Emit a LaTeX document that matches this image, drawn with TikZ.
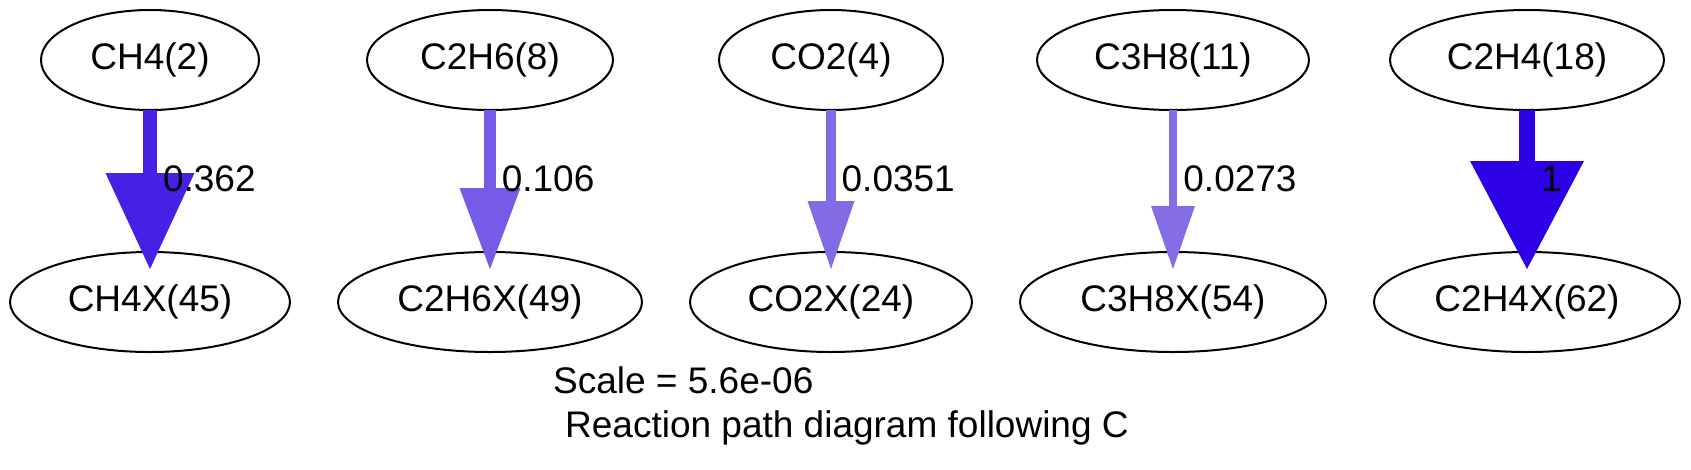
\documentclass[tikz,border=0pt]{standalone}
\usepackage{fontspec}
\setmainfont{Liberation Sans}
\usetikzlibrary{positioning,shapes,arrows.meta,matrix}
\definecolor{fluxch4}{RGB}{71,32,230}
\definecolor{fluxc2h6}{RGB}{118,91,230}
\definecolor{fluxco2}{RGB}{132,107,230}
\definecolor{fluxc3h8}{RGB}{133,109,230}
\definecolor{fluxc2h4}{RGB}{46,0,230}
\tikzset{
  species/.style={
    % The shape:
    ellipse,
    anchor=center,
    % The size:
    minimum height=100pt,
    inner sep=0pt,
    % The border:
    draw=black,
    line width=2pt},
  flow/.style n args={4}{
    draw=#1,
    line width=#2,
    shorten >=-17pt,
    -{Triangle[length=#3,width=#4,line width=0pt]}},
  flux label/.style={midway,anchor=west,xshift=6pt,yshift=2pt,inner sep=0pt,text=black}
}

\begin{document}
\begin{tikzpicture}[x=1pt,y=-1pt,font=\fontsize{37}{44}\selectfont]
  \useasboundingbox (0,0) rectangle (1691,469);

  \matrix (grid) [ampersand replacement=\&,column sep=46pt,row sep=140pt,
                  inner sep=0pt,outer sep=0pt,anchor=north west] at (9,9) {
    \node (ch4)   [species,minimum width=218pt] {CH4(2)};    \&
    \node (c2h6)  [species,minimum width=246pt] {C2H6(8)};   \&
    \node (co2)   [species,minimum width=224pt] {CO2(4)};    \&
    \node (c3h8)  [species,minimum width=272pt] {C3H8(11)};  \&
    \node (c2h4)  [species,minimum width=274pt] {C2H4(18)};  \\
    \node (ch4x)  [species,minimum width=280pt] {CH4X(45)};  \&
    \node (c2h6x) [species,minimum width=304pt] {C2H6X(49)}; \&
    \node (co2x)  [species,minimum width=282pt] {CO2X(24)};  \&
    \node (c3h8x) [species,minimum width=306pt] {C3H8X(54)}; \&
    \node (c2h4x) [species,minimum width=306pt] {C2H4X(62)}; \\
  };

  % fluxes, source/target/colour/width/head length/head width/value
  \foreach \src/\dst/\col/\lw/\hl/\hw/\val in {
      ch4/ch4x/fluxch4/14/96/89/0.362,
      c2h6/c2h6x/fluxc2h6/11.5/81/61/0.106,
      co2/co2x/fluxco2/9.3/68/47/0.0351,
      c3h8/c3h8x/fluxc3h8/8.8/63/44/0.0273,
      c2h4/c2h4x/fluxc2h4/16/108/114/1}
    \draw[flow={\col}{\lw pt}{\hl pt}{\hw pt}] (\src.south) -- (\dst.north)
      node (lab-\src) [flux label] {\val};

  \node (scale) [anchor=base west,inner sep=0pt] at (553,393) {Scale = 5.6e-06};
  \node (title) [anchor=base west,inner sep=0pt] at (565,437) {Reaction path diagram following C};
\end{tikzpicture}
\end{document}
